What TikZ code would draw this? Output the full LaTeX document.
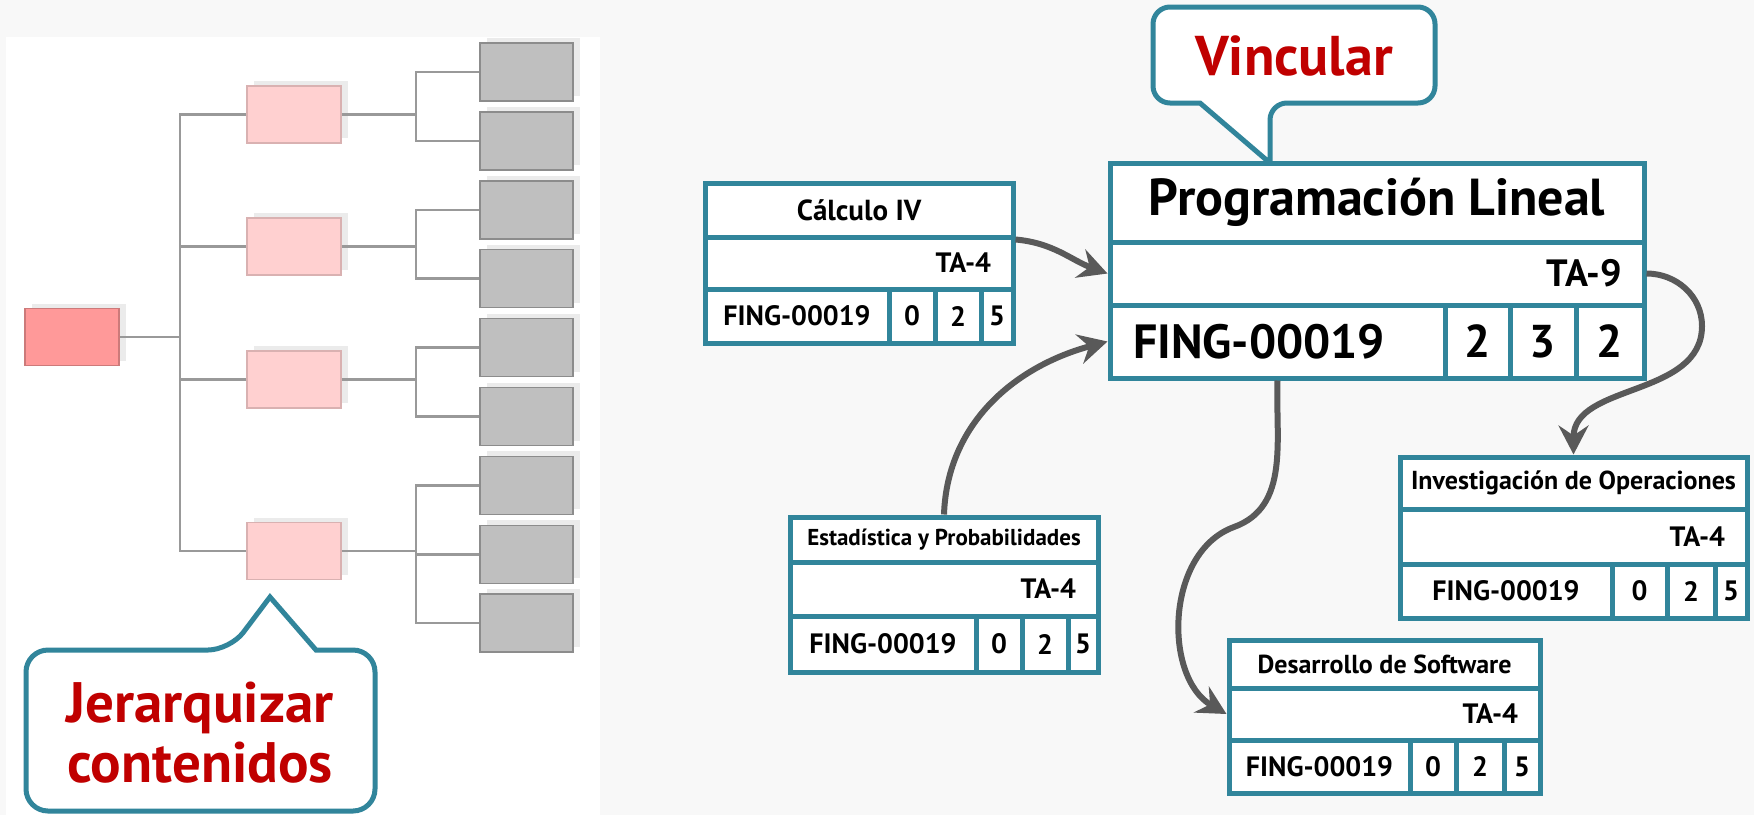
\documentclass[tikz,border=0pt]{standalone}
\usepackage{fontspec}
\setmainfont{PT Sans}
\usetikzlibrary{arrows.meta,shadows}

\definecolor{azul}{RGB}{49,133,155}
\definecolor{rojo}{RGB}{192,0,0}
\definecolor{flecha}{RGB}{89,89,89}
\definecolor{raizrosa}{RGB}{255,153,153}
\definecolor{rosa}{RGB}{255,208,208}
\definecolor{hojagris}{RGB}{191,191,191}
\definecolor{fondo}{RGB}{248,248,248}

\tikzset{
  letra/.style={font=\fontsize{#1}{#1}\selectfont\bfseries},
  celda/.style={draw=azul, line width=5pt, fill=white, inner sep=0pt},
  fila/.style={celda, align=right, inner xsep=22pt},
  enlace/.style={draw=flecha, line width=6pt, -{Stealth[length=29pt,width=30pt,inset=10pt]}},
  rama/.style={draw=black!40, line width=2.5pt},
  caja/.style={minimum width=94pt, minimum height=57pt, inner sep=0pt, line width=1.5pt,
    drop shadow={shadow xshift=7pt, shadow yshift=5pt, fill=black!8, opacity=1}},
  globo/.style={draw=azul, line width=5pt, fill=white},
}

\begin{document}
\begin{tikzpicture}[x=1pt, y=-1pt]
    \useasboundingbox[fill=fondo] (0,0) rectangle (1754,815);
    \fill[white] (6,37) rectangle (600,815);

    \node[caja, fill=raizrosa, draw=raizrosa!80!black] (raiz) at (72,337) {};
    \node[caja, fill=rosa, draw=rosa!85!black] (n1) at (294,114.5) {};
    \node[caja, fill=rosa, draw=rosa!85!black] (n2) at (294,246.5) {};
    \node[caja, fill=rosa, draw=rosa!85!black] (n3) at (294,379.5) {};
    \node[caja, fill=rosa, draw=rosa!85!black] (n4) at (294,551) {};
    \foreach \i in {1,...,9}
        \node[caja, fill=hojagris, draw=black!45, minimum width=93pt, minimum height=58pt] (h\i) at (526.5,{72+68.9*(\i-1)}) {};

    \coordinate (j1) at (180,0);
    \coordinate (j2) at (416,0);
    \draw[rama] (raiz.east) -- (raiz -| j1);
    \draw[rama] (n1.west) -| (j1 |- n4) -- (n4.west);
    \draw[rama] (n2.west) -- (n2 -| j1);
    \draw[rama] (n3.west) -- (n3 -| j1);
    \draw[rama] (n1.east) -- (n1 -| j2);
    \draw[rama] (h1.west) -| (j2 |- h2) -- (h2.west);
    \draw[rama] (n2.east) -- (n2 -| j2);
    \draw[rama] (h3.west) -| (j2 |- h4) -- (h4.west);
    \draw[rama] (n3.east) -- (n3 -| j2);
    \draw[rama] (h5.west) -| (j2 |- h6) -- (h6.west);
    \draw[rama] (n4.east) -- (n4 -| j2);
    \draw[rama] (h7.west) -| (j2 |- h9) -- (h9.west);
    \draw[rama] (h8.west) -- (h8 -| j2);

    \draw[globo] (26,730) [rounded corners=22pt] -- (26,650) -- (230,650) [sharp corners] -- (270,597) -- (316,650) [rounded corners=22pt] -- (375,650) -- (375,811) -- (26,811) -- cycle;
    \node[letra=57, text=rojo, align=center, inner sep=0pt] (jerarquizar) at (200,733) {Jerarquizar\\[3pt]contenidos};

    \draw[globo] (1153,55) [rounded corners=17pt] -- (1153,7) -- (1435,7) -- (1435,103) -- (1270,103) [sharp corners] -- (1270,163) -- (1200,103) [rounded corners=17pt] -- (1153,103) -- cycle;
    \node[letra=56, text=rojo] (vincular) at (1294,56) {Vincular};

    \node[celda, letra=52, minimum width=534pt, minimum height=79pt] (prog-nombre) at (1377,202.5) {Programación Lineal};
    \node[fila, letra=38, text width=490pt, minimum height=63pt] (prog-ta) at (1377,273.5) {TA-9};
    \node[celda, letra=48, text width=289pt, align=left, inner xsep=23pt, minimum height=73pt] (prog-cod) at (1277.5,341.5) {FING-00019};
    \node[celda, letra=46, minimum width=65pt, minimum height=73pt] (prog-c1) at (1477.5,341.5) {2};
    \node[celda, letra=46, minimum width=66pt, minimum height=73pt] (prog-c2) at (1543,341.5) {3};
    \node[celda, letra=46, minimum width=68pt, minimum height=73pt] (prog-c3) at (1610,341.5) {2};

    \node[celda, letra=29, minimum width=308pt, minimum height=54pt] (calc-nombre) at (859,210) {Cálculo IV};
    \node[fila, letra=28, text width=264pt, minimum height=52pt] (calc-ta) at (859,263) {TA-4};
    \node[celda, letra=28, minimum width=184pt, minimum height=54pt] (calc-cod) at (797,316) {FING-00019};
    \node[celda, letra=28, minimum width=46pt, minimum height=54pt] (calc-c1) at (912,316) {0};
    \node[celda, letra=28, minimum width=46pt, minimum height=54pt] (calc-c2) at (958,316) {2};
    \node[celda, letra=28, minimum width=32pt, minimum height=54pt] (calc-c3) at (997,316) {5};

    \node[celda, letra=23, minimum width=308pt, minimum height=45pt] (est-nombre) at (944,539.5) {Estadística y Probabilidades};
    \node[fila, letra=28, text width=264pt, minimum height=54pt] (est-ta) at (944,589) {TA-4};
    \node[celda, letra=28, minimum width=186pt, minimum height=56pt] (est-cod) at (883,644) {FING-00019};
    \node[celda, letra=28, minimum width=46pt, minimum height=56pt] (est-c1) at (999,644) {0};
    \node[celda, letra=28, minimum width=46pt, minimum height=56pt] (est-c2) at (1045,644) {2};
    \node[celda, letra=28, minimum width=30pt, minimum height=56pt] (est-c3) at (1083,644) {5};

    \node[celda, letra=26, minimum width=347pt, minimum height=52pt] (inv-nombre) at (1573.5,483) {Investigación de Operaciones};
    \node[fila, letra=28, text width=303pt, minimum height=55pt] (inv-ta) at (1573.5,536.5) {TA-4};
    \node[celda, letra=28, minimum width=212pt, minimum height=54pt] (inv-cod) at (1506,591) {FING-00019};
    \node[celda, letra=28, minimum width=55pt, minimum height=54pt] (inv-c1) at (1639.5,591) {0};
    \node[celda, letra=28, minimum width=48pt, minimum height=54pt] (inv-c2) at (1691,591) {2};
    \node[celda, letra=28, minimum width=32pt, minimum height=54pt] (inv-c3) at (1731,591) {5};

    \node[celda, letra=26, minimum width=311pt, minimum height=48pt] (des-nombre) at (1384.5,664) {Desarrollo de Software};
    \node[fila, letra=28, text width=267pt, minimum height=52pt] (des-ta) at (1384.5,714) {TA-4};
    \node[celda, letra=28, minimum width=181pt, minimum height=53pt] (des-cod) at (1319.5,766.5) {FING-00019};
    \node[celda, letra=28, minimum width=46pt, minimum height=53pt] (des-c1) at (1433,766.5) {0};
    \node[celda, letra=28, minimum width=48pt, minimum height=53pt] (des-c2) at (1480,766.5) {2};
    \node[celda, letra=28, minimum width=36pt, minimum height=53pt] (des-c3) at (1522,766.5) {5};

    \coordinate (codo1) at (1702,326);
    \coordinate (codo2) at (1234,527);
    \draw[enlace] (calc-nombre.south east) to[out=-5, in=160] (prog-ta.west);
    \draw[enlace] (est-nombre.north) to[out=88, in=195] (prog-cod.west);
    \draw[enlace] (prog-ta.east) to[out=0, in=90] (codo1) to[out=-90, in=90] (inv-nombre.north);
    \draw[enlace] (prog-cod.south) to[out=-92, in=20] (codo2) to[out=200, in=150] (des-ta.west);
\end{tikzpicture}
\end{document}
